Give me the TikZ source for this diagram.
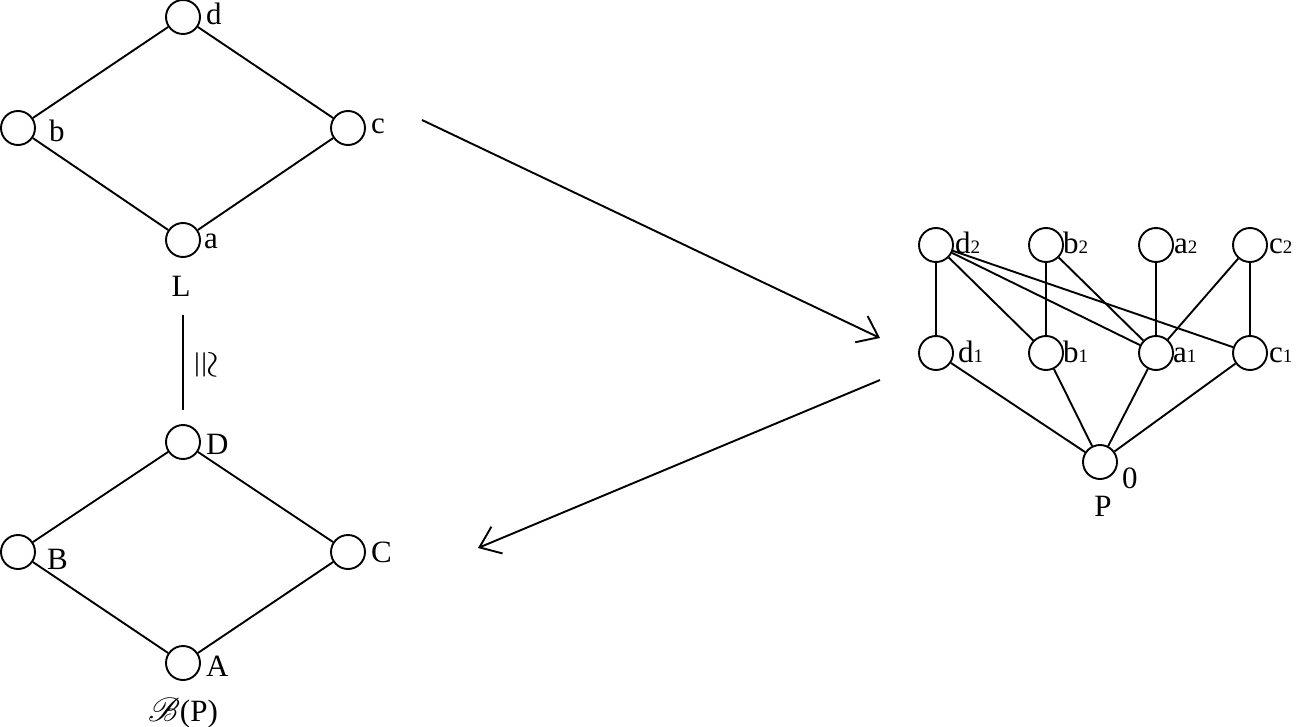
\documentclass[tikz,border=0pt]{standalone}
\usepackage{fontspec}
\setmainfont{Liberation Serif}
\usepackage{mathrsfs}
\usepackage{graphicx}
\usetikzlibrary{arrows.meta}
\newcommand\subd[1]{{\fontsize{19}{19}\selectfont #1}}
\begin{document}
\begin{tikzpicture}[x=1pt,y=-1pt,
  vtx/.style={circle,draw,line width=1.9pt,minimum size=34pt,inner sep=0pt},
  lbl/.style={anchor=base west,inner sep=0pt,font=\fontsize{31}{31}\selectfont},
  clbl/.style={anchor=base,inner sep=0pt,font=\fontsize{31}{31}\selectfont},
  edge/.style={line width=1.9pt},
  bigarrow/.style={line width=1.9pt,-{Straight Barb[length=19pt,width=29pt,line width=1.9pt]}}]
\useasboundingbox (0,0) rectangle (1297,727);
% top diamond L
\node[vtx] (d) at (183,17) {};
\node[vtx] (b) at (18,128) {};
\node[vtx] (c) at (348,128) {};
\node[vtx] (a) at (183,240) {};
\node[lbl] (ld) at (206,25) {d};
\node[lbl] (lb) at (49,142) {b};
\node[lbl] (lc) at (371,134) {c};
\node[lbl] (la) at (204,248) {a};
\draw[edge] (b) -- (d) -- (c) -- (a) -- (b);
\node[clbl] (L) at (181,296) {L};
% isomorphism
\coordinate (iso1) at (183,315);
\coordinate (iso2) at (183,410);
\draw[edge] (iso1) -- (iso2);
\node[inner sep=0pt] (cong) at (204,365) {\rotatebox{-90}{\scalebox{3.7}{$\cong$}}};
% bottom diamond B(P)
\node[vtx] (D) at (183,442) {};
\node[vtx] (B) at (18,552) {};
\node[vtx] (C) at (348,552) {};
\node[vtx] (A) at (183,663) {};
\node[lbl] (lD) at (206,454) {D};
\node[lbl] (lB) at (47,569) {B};
\node[lbl] (lC) at (371,562) {C};
\node[lbl] (lA) at (206,676) {A};
\draw[edge] (B) -- (D) -- (C) -- (A) -- (B);
\node[clbl] (BP) at (183,721) {\scalebox{1.35}{$\mathscr{B}$}(P)};
% right poset P
\node[vtx] (d2) at (936,245) {};
\node[vtx] (b2) at (1046,245) {};
\node[vtx] (a2) at (1156,245) {};
\node[vtx] (c2) at (1250,245) {};
\node[vtx] (d1) at (936,353) {};
\node[vtx] (b1) at (1046,353) {};
\node[vtx] (a1) at (1156,353) {};
\node[vtx] (c1) at (1250,353) {};
\node[vtx] (z) at (1100,462) {};
\node[lbl] (ld2) at (955,254) {d\subd{2}};
\node[lbl] (lb2) at (1063,254) {b\subd{2}};
\node[lbl] (la2) at (1174,254) {a\subd{2}};
\node[lbl] (lc2) at (1269,254) {c\subd{2}};
\node[lbl] (ld1) at (958,362) {d\subd{1}};
\node[lbl] (lb1) at (1063,362) {b\subd{1}};
\node[lbl] (la1) at (1173,362) {a\subd{1}};
\node[lbl] (lc1) at (1269,362) {c\subd{1}};
\node[lbl] (lz) at (1122,488) {0};
\node[clbl] (P) at (1103,516) {P};
\draw[edge] (d2) -- (d1);
\draw[edge] (d2) -- (b1);
\draw[edge] (d2) -- (a1);
\draw[edge] (d2) -- (c1);
\draw[edge] (b2) -- (b1);
\draw[edge] (b2) -- (a1);
\draw[edge] (a2) -- (a1);
\draw[edge] (c2) -- (a1);
\draw[edge] (c2) -- (c1);
\draw[edge] (d1) -- (z);
\draw[edge] (b1) -- (z);
\draw[edge] (a1) -- (z);
\draw[edge] (c1) -- (z);
% arrows
\coordinate (ar1s) at (422,120);
\coordinate (ar1e) at (880,338);
\coordinate (ar2s) at (880,380);
\coordinate (ar2e) at (478,548);
\draw[bigarrow] (ar1s) -- (ar1e);
\draw[bigarrow] (ar2s) -- (ar2e);
\end{tikzpicture}
\end{document}
